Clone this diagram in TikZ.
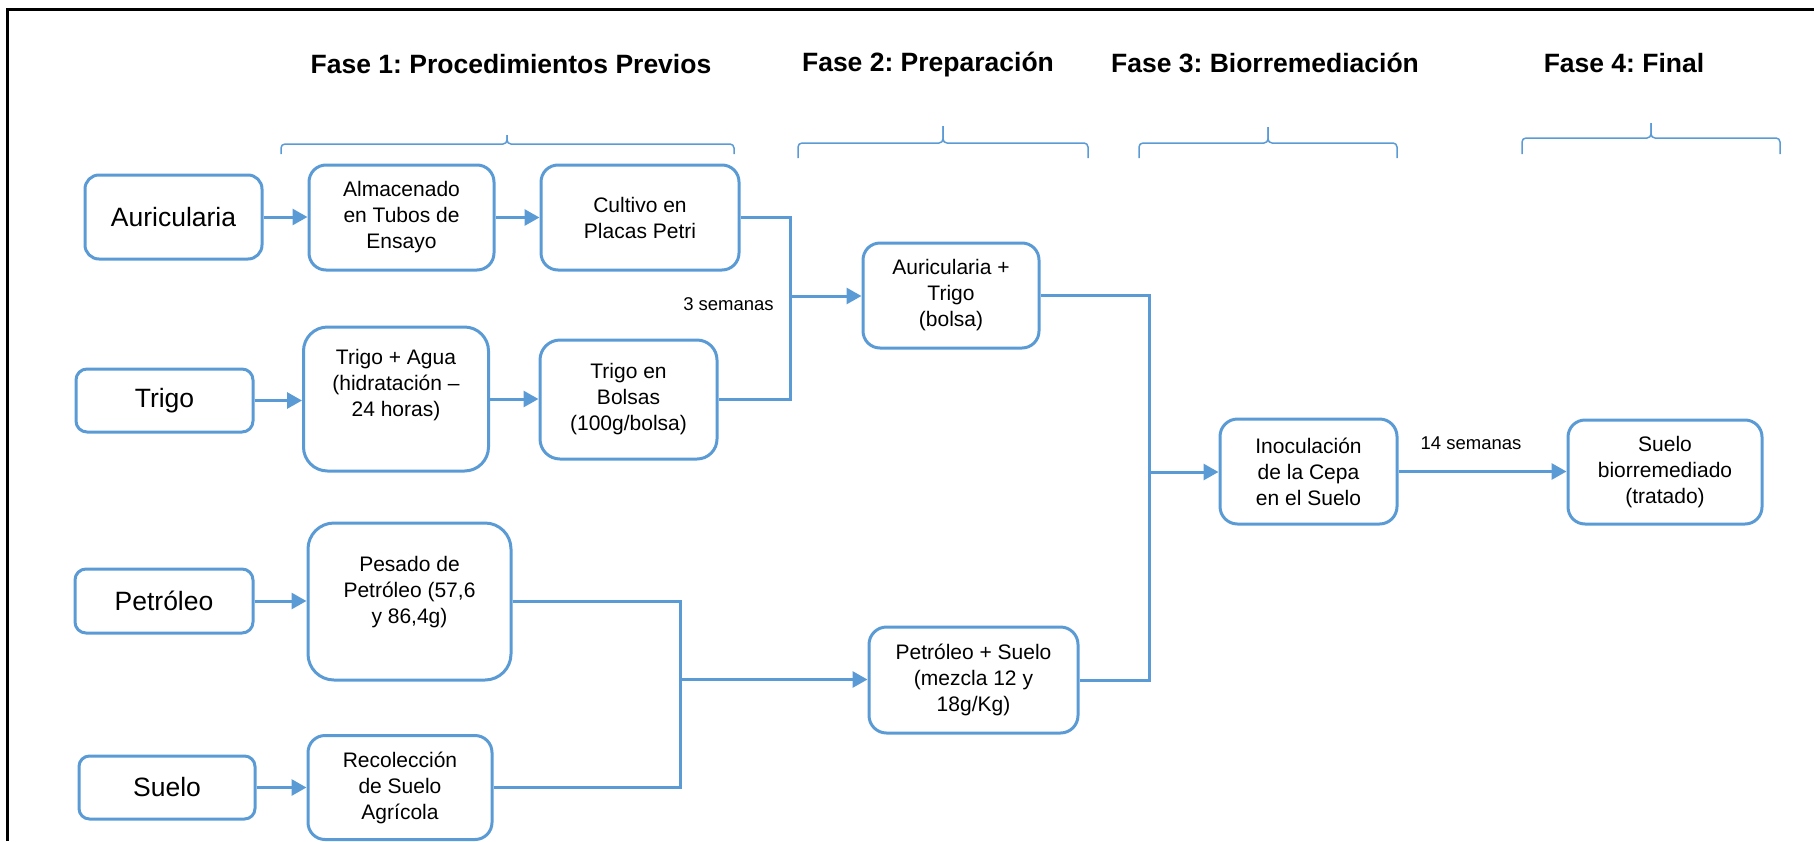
\documentclass[tikz,border=0pt]{standalone}
\usepackage{fontspec}
\setmainfont{Liberation Sans}
\usetikzlibrary{arrows.meta}
\definecolor{boxblue}{RGB}{91,155,213}
\frenchspacing
\begin{document}
\begin{tikzpicture}[x=1pt,y=-1pt,
  box/.style={draw=boxblue, line width=3pt, fill=white, align=center, inner sep=0pt, font=\fontsize{21}{26}\selectfont},
  bigbox/.style={box, font=\fontsize{26.5}{30}\selectfont},
  boxtext/.style={align=center, inner sep=0pt, font=\fontsize{21}{26}\selectfont},
  title/.style={font=\bfseries\fontsize{26.5}{30}\selectfont, anchor=base, inner sep=0pt},
  lbl/.style={font=\fontsize{18.5}{22}\selectfont, anchor=base, inner sep=0pt},
  conn/.style={draw=boxblue, line width=3pt},
  arr/.style={conn, -{Triangle[length=15pt,width=16pt]}},
  brace/.style={draw=boxblue, line width=1.5pt, rounded corners=4pt}
]
\useasboundingbox (0,0) rectangle (1814,841);
\draw[line width=3pt] (7,841) -- (7,9) -- (1814,9);

% titles
\node[title] (f1) at (511,73) {Fase 1: Procedimientos Previos};
\node[title] (f2) at (928,71) {Fase 2: Preparación};
\node[title] (f3) at (1265,72) {Fase 3: Biorremediación};
\node[title] (f4) at (1624,72) {Fase 4: Final};

% braces
\draw[brace] (281,154) -- (281,144) -- (507,144) -- (507,135);
\draw[brace] (507,135) -- (507,144) -- (734,144) -- (734,154);
\draw[brace] (798,158) -- (798,143) -- (943,143) -- (943,126);
\draw[brace] (943,126) -- (943,143) -- (1088,143) -- (1088,158);
\draw[brace] (1139,158) -- (1139,143) -- (1268,143) -- (1268,127);
\draw[brace] (1268,127) -- (1268,143) -- (1397,143) -- (1397,158);
\draw[brace] (1522,154) -- (1522,138) -- (1651,138) -- (1651,123);
\draw[brace] (1651,123) -- (1651,138) -- (1780,138) -- (1780,154);

% boxes
\node[bigbox, minimum width=177pt, minimum height=84pt, rounded corners=14pt] (aur) at (173.5,217) {Auricularia};
\node[box, minimum width=185pt, minimum height=105pt, rounded corners=17pt] (alm) at (401.5,217.5) {Almacenado\\en Tubos de\\Ensayo};
\node[box, minimum width=198pt, minimum height=105pt, rounded corners=17pt] (cul) at (640,217.5) {Cultivo en\\Placas Petri};
\node[bigbox, minimum width=177pt, minimum height=63pt, rounded corners=11pt] (tri) at (164.5,400.5) {Trigo};
\node[box, minimum width=185pt, minimum height=144pt, rounded corners=24pt] (tya) at (396,399) {};
\node[boxtext] (tyat) at ([yshift=14pt]tya.center) {Trigo + Agua\\(hidratación –\\24 horas)};
\node[box, minimum width=177pt, minimum height=119pt, rounded corners=20pt] (bol) at (628.5,399.5) {Trigo en\\Bolsas\\(100g/bolsa)};
\node[box, minimum width=176pt, minimum height=105pt, rounded corners=17pt] (ayt) at (951,295.5) {Auricularia +\\Trigo\\(bolsa)};
\node[bigbox, minimum width=178pt, minimum height=64pt, rounded corners=11pt] (pet) at (164,601) {Petróleo};
\node[box, minimum width=203pt, minimum height=157pt, rounded corners=26pt] (pes) at (409.5,601.5) {};
\node[boxtext] (pest) at ([yshift=9.5pt]pes.center) {Pesado de\\Petróleo (57,6\\y 86,4g)};
\node[bigbox, minimum width=176pt, minimum height=63pt, rounded corners=10.5pt] (sue) at (167,787.5) {Suelo};
\node[box, minimum width=184pt, minimum height=104pt, rounded corners=17pt] (rec) at (400,787.5) {Recolección\\de Suelo\\Agrícola};
\node[box, minimum width=209pt, minimum height=106pt, rounded corners=17.5pt] (pys) at (973.5,680) {Petróleo + Suelo\\(mezcla 12 y\\18g/Kg)};
\node[box, minimum width=177pt, minimum height=105pt, rounded corners=17.5pt] (ino) at (1308.5,471.5) {Inoculación\\de la Cepa\\en el Suelo};
\node[box, minimum width=194pt, minimum height=104pt, rounded corners=17pt] (sbr) at (1665,472) {Suelo\\biorremediado\\(tratado)};

% junctions
\coordinate (j1) at (790,296);
\coordinate (j2) at (680,679.5);
\coordinate (j3) at (1149,472);

% connectors
\draw[arr] (aur.east) -- (aur.east -| alm.west);
\draw[arr] (alm.east) -- (alm.east -| cul.west);
\draw[conn] (cul.east) -| (j1) |- (bol.east);
\draw[arr] (j1) -- (j1 -| ayt.west);
\draw[arr] (tri.east) -- (tri.east -| tya.west);
\draw[arr] (tya.east) -- (tya.east -| bol.west);
\draw[arr] (pet.east) -- (pet.east -| pes.west);
\draw[arr] (sue.east) -- (sue.east -| rec.west);
\draw[conn] (pes.east) -| (j2) |- (rec.east);
\draw[arr] (j2) -- (j2 -| pys.west);
\draw[conn] (ayt.east) -| (j3) |- (pys.east);
\draw[arr] (j3) -- (j3 -| ino.west);
\draw[arr] (ino.east) -- (ino.east -| sbr.west);

% labels
\node[lbl] (w3) at (728.5,310) {3 semanas};
\node[lbl] (w14) at (1471,449) {14 semanas};
\end{tikzpicture}
\end{document}
